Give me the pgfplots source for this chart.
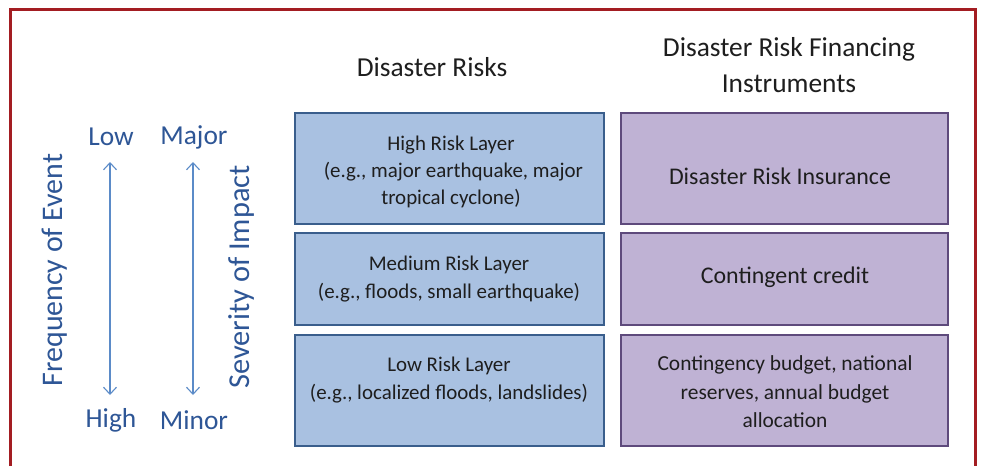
\documentclass[border=0pt]{standalone}
\usepackage{fontspec}
\setmainfont{Carlito}
\usepackage{pgfplots}
\pgfplotsset{compat=1.18}
\usetikzlibrary{arrows.meta}
\definecolor{frame}{HTML}{A31D22}
\definecolor{bfill}{HTML}{A9C1E1}
\definecolor{bdraw}{HTML}{3A5E8C}
\definecolor{pfill}{HTML}{BFB2D4}
\definecolor{pdraw}{HTML}{5E4A7C}
\definecolor{lblue}{HTML}{2E5696}
\definecolor{ablue}{HTML}{5B8BC8}
\definecolor{txt}{HTML}{1E1E1E}
\begin{document}
\begin{tikzpicture}
\begin{axis}[width=981bp,height=466bp,scale only axis,
  xmin=0,xmax=981,ymin=0,ymax=466,y dir=reverse,hide axis,clip=false]
\addplot[fill=white,draw=none] coordinates {(0,0)(981,0)(981,466)(0,466)} -- cycle;
% red frame (open at bottom)
\addplot[frame,line width=3bp] coordinates {(10,466)(10,10)(975,10)(975,466)};
% blue boxes
\addplot[fill=bfill,draw=bdraw,line width=2.2bp] coordinates {(295,113)(604,113)(604,224)(295,224)} -- cycle;
\addplot[fill=bfill,draw=bdraw,line width=2.2bp] coordinates {(295,233)(604,233)(604,325)(295,325)} -- cycle;
\addplot[fill=bfill,draw=bdraw,line width=2.2bp] coordinates {(295,335)(604,335)(604,446)(295,446)} -- cycle;
% purple boxes
\addplot[fill=pfill,draw=pdraw,line width=2.2bp] coordinates {(621,113)(948,113)(948,224)(621,224)} -- cycle;
\addplot[fill=pfill,draw=pdraw,line width=2.2bp] coordinates {(621,233)(948,233)(948,325)(621,325)} -- cycle;
\addplot[fill=pfill,draw=pdraw,line width=2.2bp] coordinates {(621,335)(948,335)(948,446)(621,446)} -- cycle;
% arrows
\addplot[ablue,line width=1.1bp,arrows={Straight Barb[length=7bp,width=13bp]-Straight Barb[length=7bp,width=13bp]}] coordinates {(110,162)(110,395)};
\addplot[ablue,line width=1.1bp,arrows={Straight Barb[length=7bp,width=13bp]-Straight Barb[length=7bp,width=13bp]}] coordinates {(193,162)(193,395)};
% titles
\node[txt,font=\fontsize{27.5}{36}\selectfont] at (axis cs:432,67) {Disaster Risks};
\node[txt,align=center,font=\fontsize{27.5}{36}\selectfont] at (axis cs:789,65) {Disaster Risk Financing\\Instruments};
% left labels
\node[lblue,font=\fontsize{27.5}{33}\selectfont] at (axis cs:111,137) {Low};
\node[lblue,font=\fontsize{27.5}{33}\selectfont] at (axis cs:194,137) {Major};
\node[lblue,font=\fontsize{27.5}{33}\selectfont] at (axis cs:111,420) {High};
\node[lblue,font=\fontsize{27.5}{33}\selectfont] at (axis cs:194,420) {Minor};
\node[lblue,rotate=90,font=\fontsize{30}{33}\selectfont] at (axis cs:55,270) {Frequency of Event};
\node[lblue,rotate=90,font=\fontsize{30.5}{33}\selectfont] at (axis cs:241,277) {Severity of Impact};
% blue box texts
\node[txt,align=center,font=\fontsize{21}{27}\selectfont] at (axis cs:451,172) {High Risk Layer\\ \ (e.g., major earthquake, major\\tropical cyclone)};
\node[txt,align=center,font=\fontsize{21}{28}\selectfont] at (axis cs:449,279) {Medium Risk Layer\\(e.g., floods, small earthquake)};
\node[txt,align=center,font=\fontsize{21}{28}\selectfont] at (axis cs:449,380) {Low Risk Layer\\(e.g., localized floods, landslides)};
% purple box texts
\node[txt,font=\fontsize{24}{29}\selectfont] at (axis cs:780,176) {Disaster Risk Insurance};
\node[txt,font=\fontsize{24}{29}\selectfont] at (axis cs:785,277) {Contingent credit};
\node[txt,align=center,font=\fontsize{21.5}{28.5}\selectfont] at (axis cs:785,392) {Contingency budget, national\\reserves, annual budget\\allocation};
\end{axis}
\end{tikzpicture}
\end{document}
